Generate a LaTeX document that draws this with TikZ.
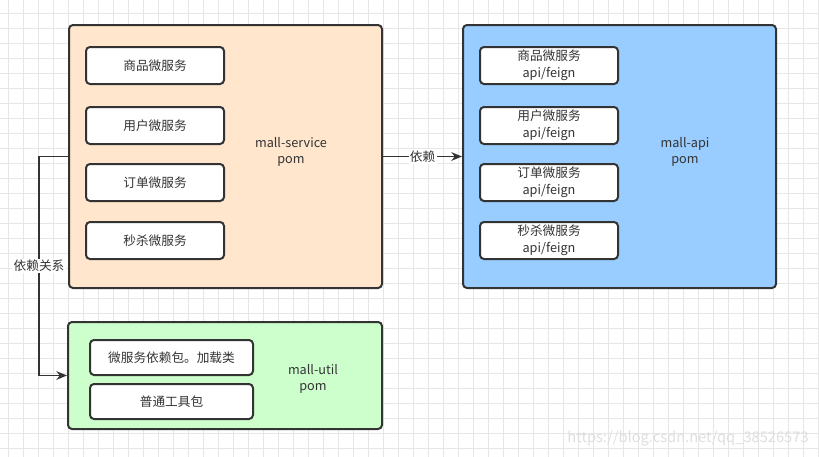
\documentclass[tikz,border=0pt]{standalone}
\usepackage{xcolor}
\usepackage{fontspec}
\setmainfont{Noto Sans CJK SC}
\usepackage{tikz}
\usetikzlibrary{arrows.meta}

\definecolor{linegray}{HTML}{333333}
\definecolor{gridgray}{HTML}{E6E6E6}
\definecolor{serviceorange}{HTML}{FFE6CC}
\definecolor{apiblue}{HTML}{99CCFF}
\definecolor{utilgreen}{HTML}{CCFFCC}

\begin{document}
\begin{tikzpicture}[x=0.75pt, y=-0.75pt,
        every node/.style={text=linegray, font=\fontsize{9.5}{12.5}\selectfont, align=center},
        module/.style={draw=linegray, line width=1.5pt, rounded corners=3pt, inner sep=0pt},
        part/.style={draw=linegray, line width=1.5pt, rounded corners=3pt, fill=white,
            minimum width=103.5pt, minimum height=27.75pt, inner sep=0pt},
        link/.style={draw=linegray, line width=1.2pt, -{Stealth[length=8pt, width=6.5pt]}},
        linktext/.style={fill=white, inner sep=1pt}]
        \useasboundingbox (0,0) rectangle (819,457);
        \fill[white] (0,0) rectangle (819,457);
        % background grid
        \foreach \gx in {8,23,...,818}
            \draw[gridgray, line width=0.75pt] (\gx,0) -- (\gx,457);
        \foreach \gy in {13,28,...,448}
            \draw[gridgray, line width=0.75pt] (0,\gy) -- (819,\gy);

        % mall-service
        \node[module, fill=serviceorange, minimum width=234.75pt, minimum height=197.25pt] (service) at (225.5,156.5) {};
        \node (servicetext) at (291,152) {mall-service\\pom};
        \node[part] (goods) at (155,65.5) {商品微服务};
        \node[part] (user) at (155,125.5) {用户微服务};
        \node[part] (order) at (155,182.5) {订单微服务};
        \node[part] (seckill) at (155,240.5) {秒杀微服务};

        % mall-api
        \node[module, fill=apiblue, minimum width=234.75pt, minimum height=197.25pt] (api) at (619.5,156.5) {};
        \node (apitext) at (685,152) {mall-api\\pom};
        \node[part] (goodsapi) at (549,65.5) {商品微服务\\api/feign};
        \node[part] (userapi) at (549,125.5) {用户微服务\\api/feign};
        \node[part] (orderapi) at (549,182.5) {订单微服务\\api/feign};
        \node[part] (seckillapi) at (549,240.5) {秒杀微服务\\api/feign};

        % mall-util
        \node[module, fill=utilgreen, minimum width=235.5pt, minimum height=80.25pt] (util) at (225,375.5) {};
        \node (utiltext) at (313,379) {mall-util\\pom};
        \node[part, minimum width=122.25pt, minimum height=26.25pt] (deps) at (171.5,357.5) {微服务依赖包。加载类};
        \node[part, minimum width=122.25pt, minimum height=26.25pt] (tools) at (171.5,401.5) {普通工具包};

        % connectors
        \draw[link] (service.east) -- (api.west) node[linktext, midway] {依赖};
        \coordinate (elbow) at (39,156.5);
        \draw[link] (service.west) -- (elbow) |- (util.west) node[linktext, pos=0.25] {依赖关系};

        \node[text=gray!25, font=\fontsize{11}{13}\selectfont] (watermark) at (688,438) {https://blog.csdn.net/qq\_38526573};
    \end{tikzpicture}
\end{document}
